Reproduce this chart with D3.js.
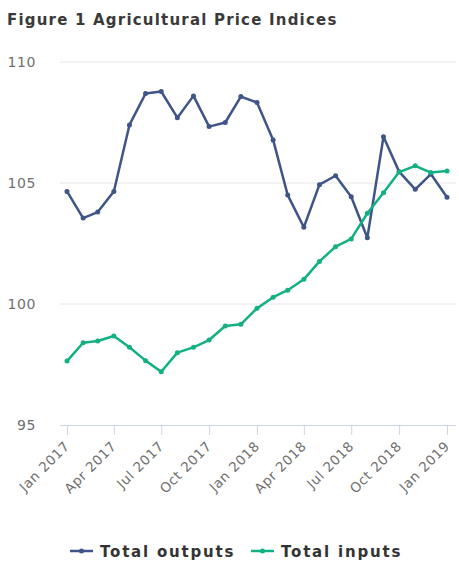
<!DOCTYPE html>
<html>
<head>
<meta charset="utf-8">
<script src="https://cdn.jsdelivr.net/npm/d3@7"></script>
<style>
  body { margin: 0; background: #fff; }
  text { font-family: "DejaVu Sans", sans-serif; }
</style>
</head>
<body>
<script>
// Indices mensuels, janvier 2017 à janvier 2019
const months = ["2017-01","2017-02","2017-03","2017-04","2017-05","2017-06","2017-07","2017-08","2017-09","2017-10","2017-11","2017-12",
  "2018-01","2018-02","2018-03","2018-04","2018-05","2018-06","2018-07","2018-08","2018-09","2018-10","2018-11","2018-12","2019-01"]

const totalOutputs = [104.65, 103.55, 103.8, 104.65, 107.4, 108.7, 108.78, 107.7, 108.6, 107.33, 107.5, 108.57,
  108.33, 106.78, 104.5, 103.17, 104.93, 105.3, 104.43, 102.74, 106.91, 105.47, 104.74, 105.37, 104.41]

const totalInputs = [97.64, 98.4, 98.47, 98.68, 98.21, 97.66, 97.2, 97.99, 98.21, 98.51, 99.09, 99.16,
  99.82, 100.28, 100.57, 101.02, 101.76, 102.37, 102.69, 103.75, 104.6, 105.45, 105.71, 105.43, 105.5]

const yTicks = [95, 100, 105, 110]
const xTicks = ["2017-01","2017-04","2017-07","2017-10","2018-01","2018-04","2018-07","2018-10","2019-01"]

const seriesNames = ["Total outputs", "Total inputs"]
const seriesColors = ["#3f5487", "#13b082"]

const parse = d3.timeParse("%Y-%m")
const fmt = d3.timeFormat("%b %Y")

const W = 459, H = 571
const margin = { top: 62, right: 3, bottom: 146, left: 60 }
const width = W - margin.left - margin.right
const height = H - margin.top - margin.bottom

const svg = d3.select("body").append("svg")
    .attr("width", W)
    .attr("height", H)

// Titre
svg.append("text")
    .attr("x", 7)
    .attr("y", 25)
    .attr("font-size", 15)
    .attr("font-weight", "bold")
    .attr("letter-spacing", 1.2)
    .attr("fill", "#3a3a3a")
    .text("Figure 1 Agricultural Price Indices")

const g = svg.append("g")
    .attr("transform", "translate(" + margin.left + "," + margin.top + ")")

const x = d3.scaleTime()
    .domain([parse(months[0]), parse(months[months.length - 1])])
    .range([7, width - 9])

const y = d3.scaleLinear()
    .domain([95, 110])
    .range([height, 0])

// Grille horizontale
g.append("g")
    .selectAll("line")
    .data(yTicks.filter(d => d !== 95))
    .join("line")
    .attr("x1", 0)
    .attr("x2", width)
    .attr("y1", d => y(d))
    .attr("y2", d => y(d))
    .attr("stroke", "#e6e6e6")

// Axe Y (étiquettes seulement)
const yAxis = g.append("g")
    .call(d3.axisLeft(y).tickValues(yTicks).tickSize(0).tickPadding(24))
yAxis.select(".domain").remove()
yAxis.selectAll("text")
    .attr("font-size", 14)
    .attr("letter-spacing", 0.6)
    .attr("fill", "#707070")
    .attr("font-family", "DejaVu Sans, sans-serif")

// Axe X
const xAxis = g.append("g")
    .attr("transform", "translate(0," + height + ")")
    .call(d3.axisBottom(x).tickValues(xTicks.map(parse)).tickFormat(fmt).tickSize(10).tickSizeOuter(0))
xAxis.select(".domain")
    .attr("d", "M0,0.5H" + width)
    .attr("stroke", "#ccd6eb")
xAxis.selectAll(".tick line").attr("stroke", "#ccd6eb")
xAxis.selectAll("text")
    .attr("font-size", 13.5)
    .attr("letter-spacing", 0.6)
    .attr("fill", "#707070")
    .attr("font-family", "DejaVu Sans, sans-serif")
    .attr("text-anchor", "end")
    .attr("dy", null)
    .attr("y", 0)
    .attr("transform", "translate(3,22) rotate(-45)")

// Séries
const series = [totalOutputs, totalInputs]
const line = d3.line()
    .x((d, i) => x(parse(months[i])))
    .y(d => y(d))

series.forEach((s, k) => {
    g.append("path")
        .datum(s)
        .attr("fill", "none")
        .attr("stroke", seriesColors[k])
        .attr("stroke-width", 2.5)
        .attr("stroke-linejoin", "round")
        .attr("d", line)
    g.append("g")
        .selectAll("circle")
        .data(s)
        .join("circle")
        .attr("cx", (d, i) => x(parse(months[i])))
        .attr("cy", d => y(d))
        .attr("r", 2.5)
        .attr("fill", seriesColors[k])
})

// Légende
const legendX = [70, 251]
const legend = svg.append("g")
seriesNames.forEach((name, k) => {
    const lg = legend.append("g").attr("transform", "translate(" + legendX[k] + ",551)")
    lg.append("line")
        .attr("x1", 0).attr("x2", 23)
        .attr("stroke", seriesColors[k])
        .attr("stroke-width", 2.5)
    lg.append("circle")
        .attr("cx", 11.5).attr("r", 2.5)
        .attr("fill", seriesColors[k])
    lg.append("text")
        .attr("x", 30)
        .attr("y", 5.5)
        .attr("font-size", 15)
        .attr("font-weight", "bold")
        .attr("letter-spacing", 1.8)
        .attr("fill", "#333")
        .text(name)
})
</script>
</body>
</html>
